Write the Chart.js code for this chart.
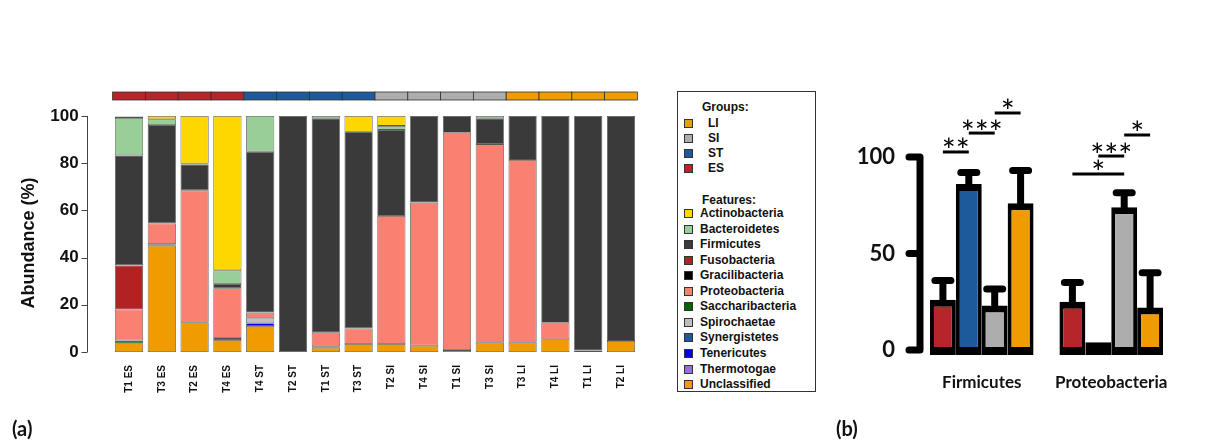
<!DOCTYPE html>
<html>
<head>
<meta charset="utf-8">
<script src="https://cdn.jsdelivr.net/npm/chart.js@4.4.1/dist/chart.umd.min.js"></script>
<style>
  body{margin:0;background:#fff;width:1215px;height:445px;overflow:hidden;position:relative;font-family:"Liberation Sans",Arial,sans-serif}
  #ca{position:absolute;left:0;top:0}
  #cb{position:absolute;left:830px;top:0}
  .lg{position:absolute;left:677px;top:91px;width:139px;height:301px;border:1.5px solid #333;box-sizing:border-box;font:bold 12px "Liberation Sans",Arial,sans-serif;color:#111}
  .lg div{position:absolute;white-space:nowrap;line-height:14px}
  .lg .sw{width:7px;height:7px;border:1px solid #333}
  .tag{position:absolute;top:416px;font:bold 20px Lato,"Open Sans",sans-serif;color:#111}
</style>
</head>
<body>
<canvas id="ca" width="670" height="445"></canvas>
<div class="lg" id="legend"></div>
<canvas id="cb" width="385" height="445"></canvas>
<div class="tag" style="left:12px">(a)</div>
<div class="tag" style="left:836px">(b)</div>
<script>
/* ---------- panel (a) data ---------- */
const samples = ['T1 ES','T3 ES','T2 ES','T4 ES','T4 ST','T2 ST','T1 ST','T3 ST',
                 'T2 SI','T4 SI','T1 SI','T3 SI','T3 LI','T4 LI','T1 LI','T2 LI'];
const groupNames  = ['LI','SI','ST','ES'];
const groupColors = {ES:'#B5252A', ST:'#1D5A9C', SI:'#ADADAD', LI:'#F09C00'};

const features = ['Actinobacteria','Bacteroidetes','Firmicutes','Fusobacteria','Gracilibacteria',
  'Proteobacteria','Saccharibacteria','Spirochaetae','Synergistetes','Tenericutes','Thermotogae','Unclassified'];
const featureColors = ['#FFD700','#98CF98','#3A3A3A','#B22222','#000000',
  '#FA8072','#006400','#BEBEBE','#1E5A9A','#0000EE','#9370DB','#F09C00'];

const actinobacteria   = [0.6,1.4,20.2,65.4,0,0,0,6.7,4.2,0,0,0,0,0,0,0];
const bacteroidetes    = [15.9,2.4,0.3,5.8,15.1,0,1.0,0,1.7,0,0,1.0,0,0,0,0];
const firmicutes       = [46.6,41.7,11,1.8,68.2,100,90.8,83.3,36.5,36.7,7.1,10.9,18.6,87.6,99.4,95.3];
const fusobacteria     = [18.7,0,0,0,0,0,0,0,0,0,0,0,0,0,0,0];
const gracilibacteria  = [0,0,0,0,0,0,0,0,0,0,0,0,0,0,0,0];
const proteobacteria   = [13.1,8.8,55.9,21.1,2.2,0,5.8,6.6,54.2,60.6,92.1,84.2,77.5,7.0,0,0];
const saccharibacteria = [1.2,0.7,0,0,0,0,0.6,0,0,0,0,0,0,0,0,0];
const spirochaetae     = [0,0,0,0,2.3,0,0,0,0,0,0,0,0,0,0,0];
const synergistetes    = [0,0,0,0,0,0,0,0,0,0,0,0,0,0,0,0];
const tenericutes      = [0,0,0,0.8,1.2,0,0,0,0,0,0,0,0,0,0,0];
const thermotogae      = [0,0,0,0,0,0,0,0,0,0,0,0,0,0,0,0];
const unclassified     = [3.7,45.0,12.6,5.1,11.0,0,1.8,3.4,3.4,2.7,0.8,3.9,3.9,5.4,0.6,4.7];
const featureValues = [actinobacteria,bacteroidetes,firmicutes,fusobacteria,gracilibacteria,
  proteobacteria,saccharibacteria,spirochaetae,synergistetes,tenericutes,thermotogae,unclassified];
const abundTicks = [0,20,40,60,80,100];

/* ---------- panel (b) data ---------- */
const phyla = ['Firmicutes','Proteobacteria'];
const bGroups = ['ES','ST','SI','LI'];
const meanES = [26,25], meanST = [86,4], meanSI = [23,74], meanLI = [76,22];
const sdES   = [10,10], sdST   = [6,0],  sdSI   = [8.6,7.5], sdLI = [17,18];
const bTicks = [0,50,100];
// significance bars: phylum index, from group, to group, height, label
const sigPhylum = [0,0,0,1,1,1];
const sigFrom   = [0,1,2,0,1,2];
const sigTo     = [1,2,3,2,2,3];
const sigY      = [102.6,112.4,122.8,91.2,100.5,111.4];
const sigText   = ['**','***','*','*','***','*'];

/* ---------- legend (html) ---------- */
const lg = document.getElementById('legend');
function row(top,left,text,color){
  if(color){ const s=document.createElement('div'); s.className='sw';
    s.style.cssText=`left:6px;top:${top+3}px;background:${color}`; lg.appendChild(s); }
  const t=document.createElement('div'); t.textContent=text;
  t.style.left=left+'px'; t.style.top=top+'px'; lg.appendChild(t);
}
row(8,24,'Groups:');
groupNames.forEach((g,i)=>row(24+i*15,30,g,groupColors[g]));
row(101,24,'Features:');
features.forEach((f,i)=>row(114+i*15.55,22,f,featureColors[i]));

/* ---------- panel (a) chart ---------- */
const axisA = {
  id:'axisA',
  afterDraw(chart){
    const {ctx, scales:{x,y}} = chart;
    ctx.save();
    const ax = 87.5;
    ctx.strokeStyle='#444'; ctx.lineWidth=1;
    ctx.beginPath();
    ctx.moveTo(ax,y.getPixelForValue(0)); ctx.lineTo(ax,y.getPixelForValue(100));
    abundTicks.forEach(v=>{ const py=Math.round(y.getPixelForValue(v))+0.5; ctx.moveTo(ax-6,py); ctx.lineTo(ax,py); });
    ctx.stroke();
    // group strip
    const w = x.getPixelForValue(1)-x.getPixelForValue(0);
    samples.forEach((s,i)=>{
      const cx = x.getPixelForValue(i);
      ctx.fillStyle = groupColors[s.split(' ')[1]];
      ctx.fillRect(cx-w/2, 92, w, 8);
      ctx.strokeStyle='#333'; ctx.lineWidth=0.8;
      ctx.strokeRect(cx-w/2, 92, w, 8);
    });
    // axis title
    ctx.translate(29,243); ctx.rotate(-Math.PI/2);
    ctx.fillStyle='#111'; ctx.font='bold 18px "Liberation Sans", Arial, sans-serif';
    ctx.textAlign='center'; ctx.textBaseline='middle';
    ctx.fillText('Abundance (%)',0,0);
    ctx.restore();
  }
};

new Chart(document.getElementById('ca'),{
  type:'bar',
  data:{
    labels:samples,
    datasets:features.map((f,i)=>({label:f,data:featureValues[i],backgroundColor:featureColors[i],
      borderColor:'#555',borderWidth:0.8,borderSkipped:false})).reverse()
  },
  options:{
    responsive:false, animation:false,
    layout:{padding:{top:116,right:32.6,left:0,bottom:0}},
    plugins:{legend:{display:false},tooltip:{enabled:false}},
    datasets:{bar:{barPercentage:0.86,categoryPercentage:1}},
    scales:{
      x:{stacked:true,grid:{display:false,drawTicks:false},border:{display:false},
         afterFit:s=>{s.height=93;},
         ticks:{autoSkip:false,minRotation:90,maxRotation:90,padding:13,color:'#111',
                font:{family:'"Liberation Sans", Arial, sans-serif',size:10,weight:'bold'}}},
      y:{stacked:true,min:0,max:100,grid:{display:false,drawTicks:false},border:{display:false},
         afterFit:s=>{s.width=112.6;},
         afterBuildTicks:s=>{s.ticks=abundTicks.map(v=>({value:v}));},
         ticks:{padding:34,color:'#111',font:{family:'"Liberation Sans", Arial, sans-serif',size:17,weight:'bold'}}}
    }
  },
  plugins:[axisA]
});

/* ---------- panel (b) chart ---------- */
const bMeans = [meanES,meanST,meanSI,meanLI];
const bSds   = [sdES,sdST,sdSI,sdLI];
const extrasB = {
  id:'extrasB',
  afterDatasetsDraw(chart){
    const {ctx, scales:{y}} = chart;
    ctx.save();
    ctx.strokeStyle='#000'; ctx.lineCap='round';
    // error bars
    ctx.lineWidth=7;
    bMeans.forEach((m,d)=>{
      chart.getDatasetMeta(d).data.forEach((bar,i)=>{
        if(!bSds[d][i]) return;
        const top = y.getPixelForValue(m[i]+bSds[d][i]);
        ctx.beginPath();
        ctx.moveTo(bar.x,bar.y+3); ctx.lineTo(bar.x,top);
        ctx.moveTo(bar.x-8,top); ctx.lineTo(bar.x+8,top);
        ctx.stroke();
      });
    });
    // axis
    const ax=90;
    ctx.beginPath();
    ctx.moveTo(ax,y.getPixelForValue(0)); ctx.lineTo(ax,y.getPixelForValue(100));
    bTicks.forEach(v=>{const py=y.getPixelForValue(v); ctx.moveTo(ax-11,py); ctx.lineTo(ax,py);});
    ctx.stroke();
    // significance
    ctx.lineCap='butt'; ctx.lineWidth=3;
    ctx.fillStyle='#000'; ctx.font='33px Lato, "Open Sans", sans-serif';
    ctx.textAlign='center'; ctx.textBaseline='alphabetic';
    sigText.forEach((t,k)=>{
      const x1 = chart.getDatasetMeta(sigFrom[k]).data[sigPhylum[k]].x;
      const x2 = chart.getDatasetMeta(sigTo[k]).data[sigPhylum[k]].x;
      const py = y.getPixelForValue(sigY[k]);
      ctx.beginPath(); ctx.moveTo(x1,py); ctx.lineTo(x2,py); ctx.stroke();
      const m = ctx.measureText(t);
      const cy = py-9;
      ctx.fillText(t,(x1+x2)/2, cy+(m.actualBoundingBoxAscent-m.actualBoundingBoxDescent)/2);
    });
    ctx.restore();
  }
};

new Chart(document.getElementById('cb'),{
  type:'bar',
  data:{
    labels:phyla,
    datasets:bGroups.map((g,d)=>({label:g,data:bMeans[d],backgroundColor:groupColors[g],
      borderColor:'#000',borderWidth:{left:4,right:4,top:7,bottom:8},borderSkipped:false,base:-2.6}))
  },
  options:{
    responsive:false, animation:false,
    layout:{padding:{top:99.1,right:39,left:0,bottom:0}},
    plugins:{legend:{display:false},tooltip:{enabled:false}},
    datasets:{bar:{barPercentage:1,categoryPercentage:0.8}},
    scales:{
      x:{grid:{display:false,drawTicks:false},border:{display:false},
         afterFit:s=>{s.height=85.35;},
         ticks:{padding:13,color:'#111',font:{family:'Lato, "Open Sans", sans-serif',size:17,weight:'bold'}}},
      y:{min:-5,max:130,grid:{display:false,drawTicks:false},border:{display:false},
         afterFit:s=>{s.width=87;},
         afterBuildTicks:s=>{s.ticks=bTicks.map(v=>({value:v}));},
         ticks:{padding:22,color:'#111',font:{family:'Lato, "Open Sans", sans-serif',size:22,weight:'bold'}}}
    }
  },
  plugins:[extrasB]
});
</script>
</body>
</html>
